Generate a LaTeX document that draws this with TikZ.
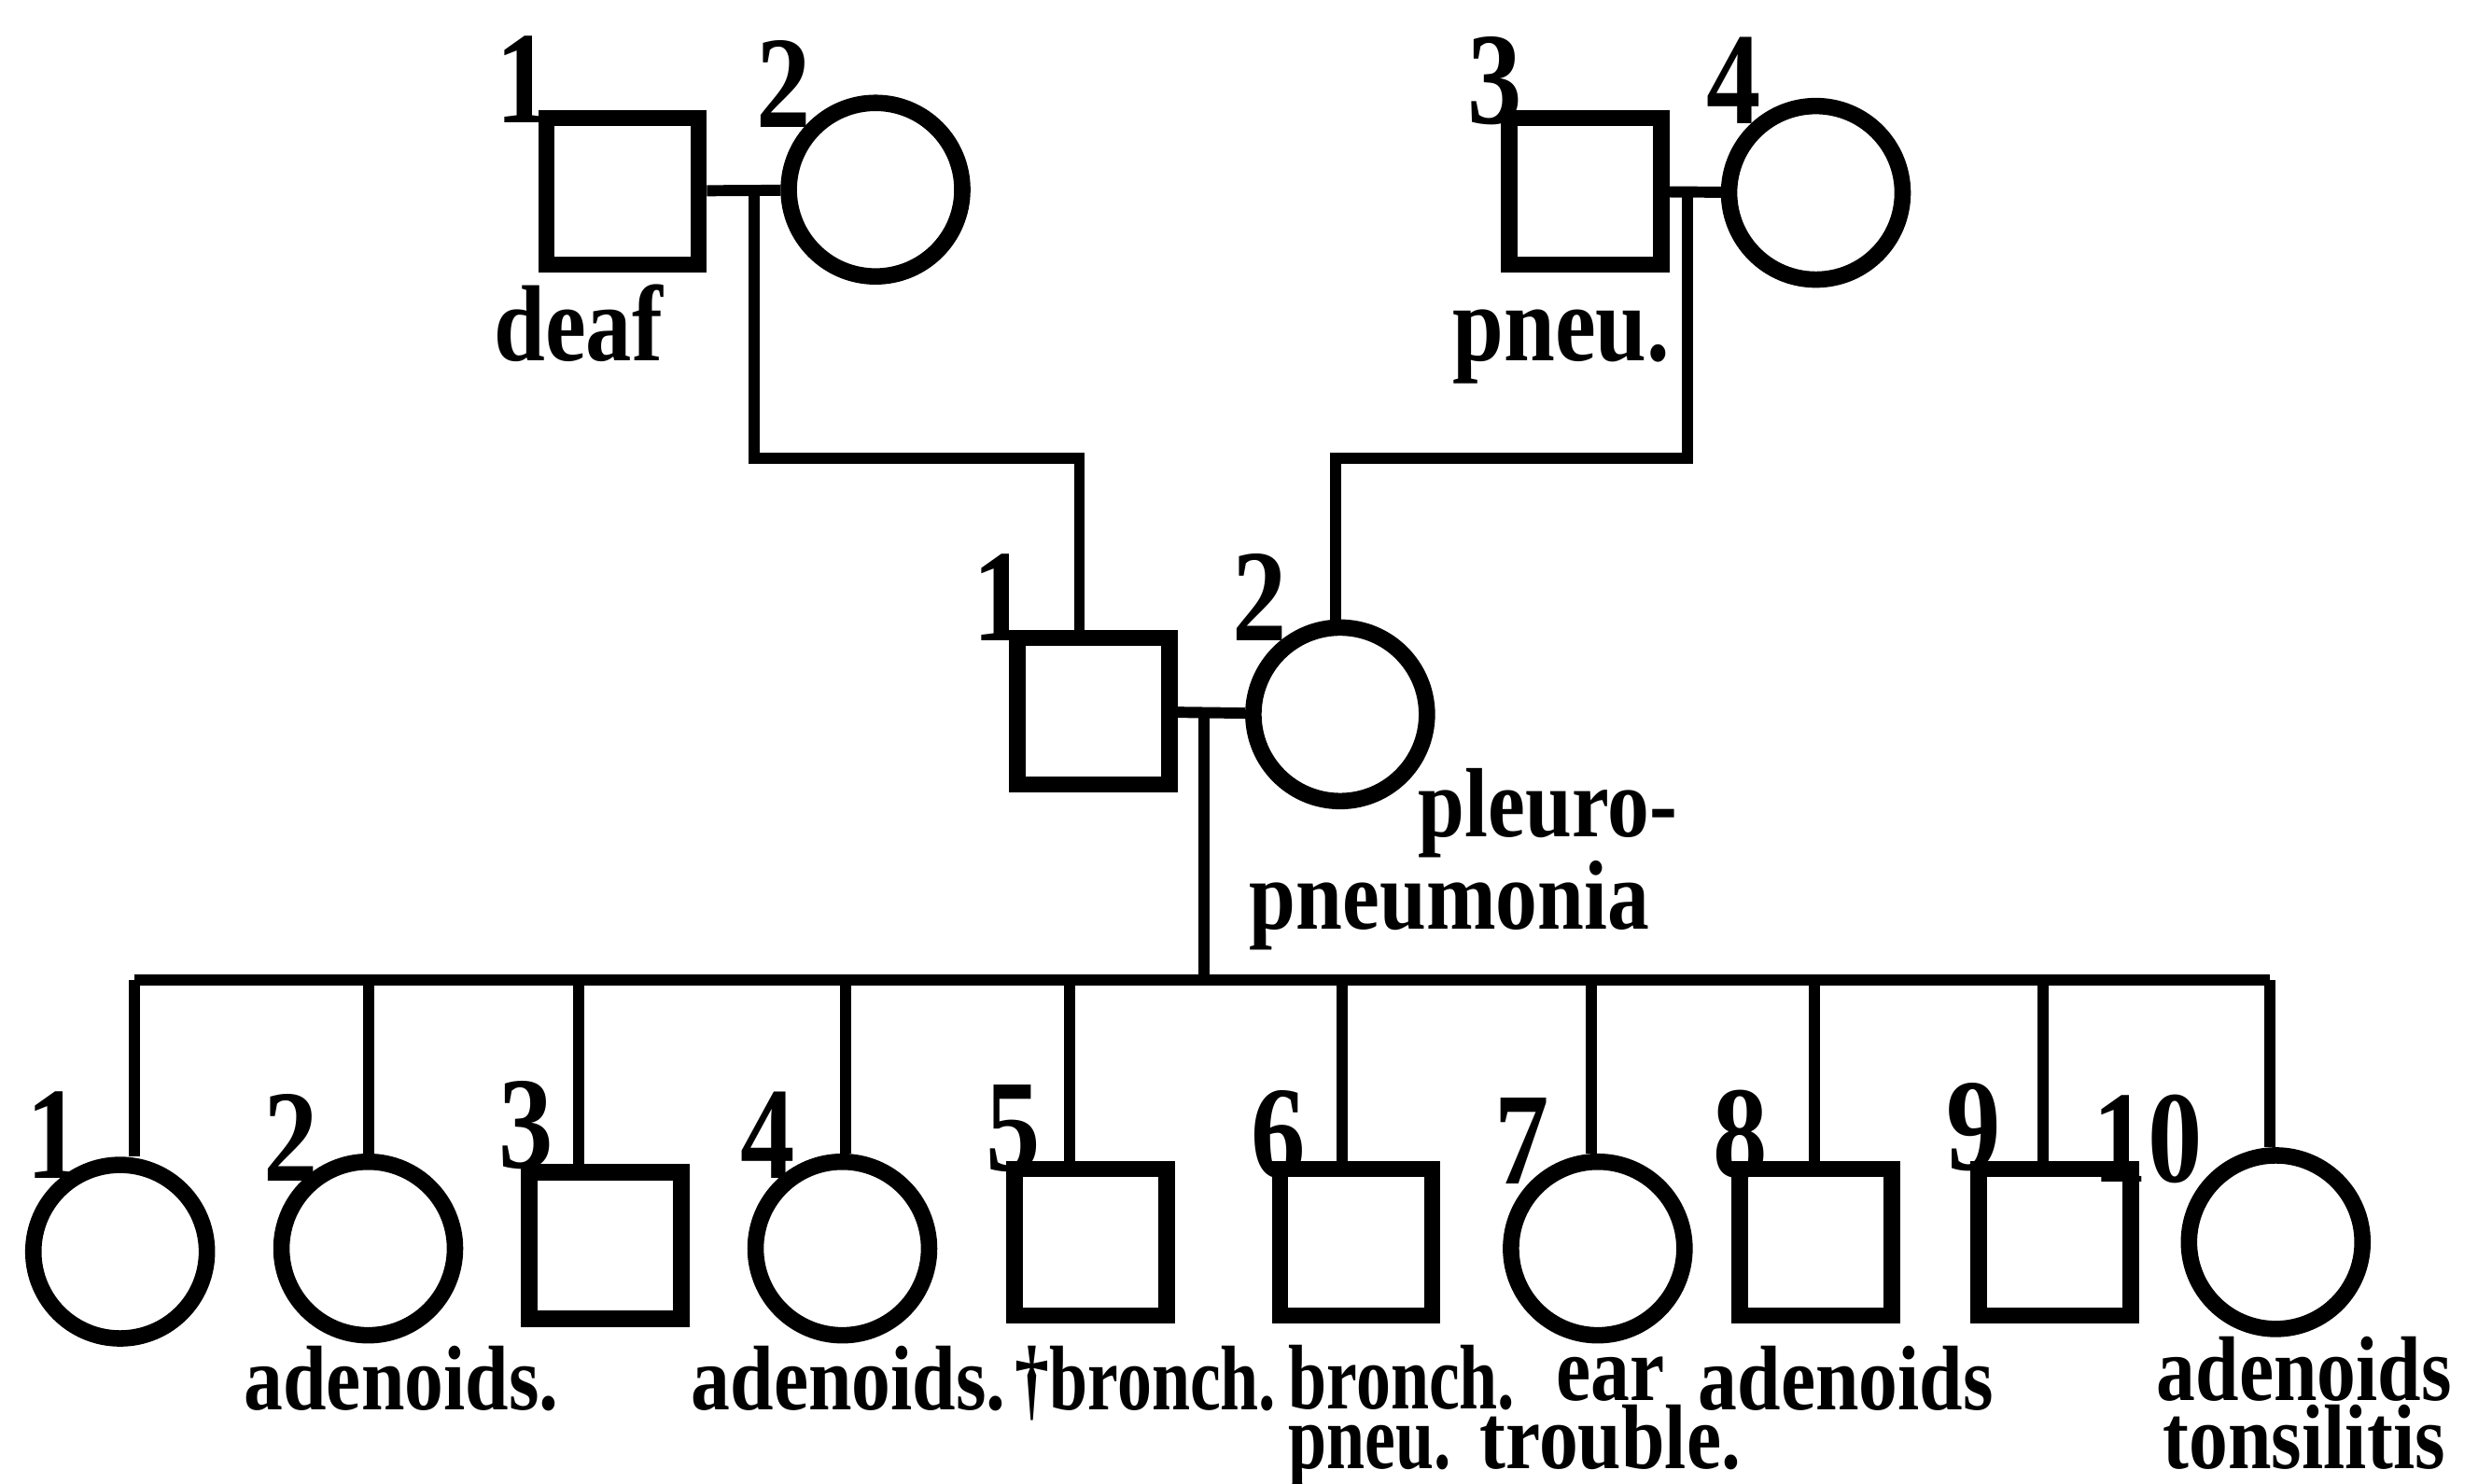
\documentclass[tikz,border=0pt]{standalone}
\usepackage{fontspec}
\setmainfont{Liberation Serif}
\newfontfamily\pedfont{Liberation Serif}[FakeStretch=0.85]
\newfontfamily\tightfont{Liberation Serif}[FakeStretch=0.75]
\newfontfamily\numfont{Liberation Serif}[FakeStretch=0.83]

\begin{document}
\begin{tikzpicture}[
    x=0.016932cm, y=-0.016932cm,
    male/.style={
        draw,
        line width=5pt,
        minimum width=1.63cm,
        minimum height=1.57cm,
        inner sep=0pt
    },
    female/.style={circle,draw,line width=5pt,minimum size=1.86cm,inner sep=0pt},
    link/.style={line width=3.4pt},
    num/.style={font=\numfont\bfseries\fontsize{40}{40}\selectfont,inner sep=0pt},
    note/.style={font=\pedfont\bfseries\fontsize{28}{18}\selectfont,inner sep=0pt,align=center},
    tightnote/.style={note,font=\tightfont\bfseries\fontsize{28}{18}\selectfont},
    bignote/.style={font=\pedfont\bfseries\fontsize{33}{24}\selectfont,inner sep=0pt}
]
    \useasboundingbox (0,0) rectangle (1568,939);

    \node[male] (I-1) at (394,121) {};
    \node[female] (I-2) at (554,120) {};
    \node[male] (I-3) at (1003,121) {};
    \node[female] (I-4) at (1149,122) {};

    \node[male] (II-1) at (692,450) {};
    \node[female] (II-2) at (848,452) {};

    \node[female] (III-1) at (76,792) {};
    \node[female] (III-2) at (233,790) {};
    \node[male] (III-3) at (383,788) {};
    \node[female] (III-4) at (533,790) {};
    \node[male] (III-5) at (690,786) {};
    \node[male] (III-6) at (858,786) {};
    \node[female] (III-7) at (1011,790) {};
    \node[male] (III-8) at (1149,786) {};
    \node[male] (III-9) at (1300,786) {};
    \node[female] (III-10) at (1440,786) {};

    \node[num] (n-I-1) at (331,50) {1};
    \node[num] (n-I-2) at (496,53) {2};
    \node[num] (n-I-3) at (946,51) {3};
    \node[num] (n-I-4) at (1097,51) {4};
    \node[num] (n-II-1) at (633,378) {1};
    \node[num] (n-II-2) at (797,378) {2};
    \node[num] (n-III-1) at (34,718) {1};
    \node[num] (n-III-2) at (184,720) {2};
    \node[num] (n-III-3) at (333,712) {3};
    \node[num] (n-III-4) at (486,718) {4};
    \node[num] (n-III-5) at (641,714) {5};
    \node[num] (n-III-6) at (809,718) {6};
    \node[num] (n-III-7) at (963,722) {7};
    \node[num] (n-III-8) at (1101,718) {8};
    \node[num] (n-III-9) at (1249,713) {9};
    \node[num] (n-III-10) at (1359,721) {10};

    \node[bignote, anchor=base] (deaf) at (366,228) {deaf};
    \node[bignote, anchor=base] (pneu) at (988,228) {pneu.};
    \node[note, font=\pedfont\bfseries\fontsize{30}{21}\selectfont, align=right, anchor=base east]
        (pleuro) at (1044,588) {pleuro\rlap{-}\\pneumonia};

    \node[note, anchor=base] (adenoids-2) at (254,892) {adenoids.};
    \node[note, anchor=base] (adenoids-4) at (537,892) {adenoids.};
    \node[tightnote, anchor=base] (bronch-5) at (725,892) {\textdagger bronch.};
    \node[tightnote, align=left, anchor=base west] (bronch-6) at (815,929) {bronch.\\pneu.};
    \node[note, anchor=base] (ear-7) at (1019,929) {ear\\trouble.};
    \node[note, anchor=base] (adenoids-8) at (1168,892) {adenoids};
    \node[note, anchor=base] (adenoids-10) at (1458,929) {adenoids\\tonsilitis};

    \coordinate (mate-a) at (477,120);
    \coordinate (bend-a) at (477,290);
    \coordinate (bend-b) at (683,290);
    \coordinate (mate-b) at (1068,121);
    \coordinate (bend-c) at (1068,290);
    \coordinate (bend-d) at (845,290);
    \coordinate (mate-c) at (762,448);

    \coordinate (sib-1) at (85,620);
    \coordinate (sib-2) at (233,620);
    \coordinate (sib-3) at (366,620);
    \coordinate (sib-4) at (535,620);
    \coordinate (sib-5) at (677,620);
    \coordinate (sib-6) at (849,620);
    \coordinate (sib-7) at (1007,620);
    \coordinate (sib-8) at (1148,620);
    \coordinate (sib-9) at (1293,620);
    \coordinate (sib-10) at (1436,620);

    \draw[link] (I-1) -- (I-2);
    \draw[link] (I-3) -- (I-4);
    \draw[link] (mate-a) -- (bend-a) -- (bend-b) -- (bend-b |- II-1.north);
    \draw[link] (mate-b) -- (bend-c) -- (bend-d) -- (bend-d |- II-2.north);

    \draw[link] (II-1) -- (II-2);
    \draw[link] (mate-c) -- (mate-c |- sib-1);

    \draw[link] (sib-1) -- (sib-10);
    \draw[link] (sib-1) -- (sib-1 |- III-1.north);
    \draw[link] (sib-2) -- (sib-2 |- III-2.north);
    \draw[link] (sib-3) -- (sib-3 |- III-3.north);
    \draw[link] (sib-4) -- (sib-4 |- III-4.north);
    \draw[link] (sib-5) -- (sib-5 |- III-5.north);
    \draw[link] (sib-6) -- (sib-6 |- III-6.north);
    \draw[link] (sib-7) -- (sib-7 |- III-7.north);
    \draw[link] (sib-8) -- (sib-8 |- III-8.north);
    \draw[link] (sib-9) -- (sib-9 |- III-9.north);
    \draw[link] (sib-10) -- (sib-10 |- III-10.north);
\end{tikzpicture}
\end{document}
